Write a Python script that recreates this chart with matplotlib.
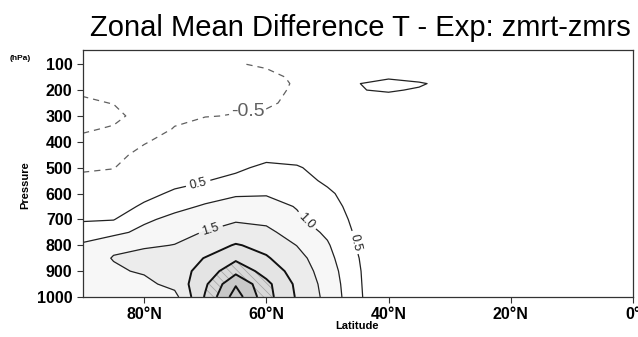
import matplotlib
matplotlib.use("Agg")
from matplotlib import pyplot

lats = [90, 85, 80, 75, 70, 65, 60, 55, 50, 45, 40, 35, 30, 20, 10, 0]
plev = [100, 150, 175, 200, 250, 300, 350, 400, 450, 500,
        550, 600, 650, 700, 750, 800, 850, 900, 950, 1000]

# zonal mean temperature difference (K), one row per level in plev
dT = [
    [-0.80, -0.75, -0.60, -0.58, -0.55, -0.52, -0.46, -0.30, -0.15, 0.20, 0.25, 0.20, 0.15, 0.10, 0.05, 0.00],
    [-0.85, -0.80, -0.65, -0.62, -0.56, -0.54, -0.58, -0.45, -0.20, 0.38, 0.45, 0.30, 0.25, 0.15, 0.05, 0.00],
    [-0.90, -0.85, -0.68, -0.64, -0.56, -0.55, -0.60, -0.47, -0.22, 0.49, 0.62, 0.56, 0.33, 0.15, 0.05, 0.00],
    [-0.95, -0.90, -0.72, -0.66, -0.57, -0.55, -0.60, -0.45, -0.25, 0.48, 0.55, 0.45, 0.30, 0.15, 0.05, 0.00],
    [-1.05, -0.99, -0.80, -0.68, -0.55, -0.54, -0.55, -0.42, -0.25, 0.20, 0.25, 0.20, 0.15, 0.10, 0.05, 0.00],
    [-1.10, -1.10, -0.85, -0.62, -0.51, -0.49, -0.44, -0.35, -0.20, 0.00, 0.05, 0.05, 0.05, 0.05, 0.00, 0.00],
    [-1.05, -0.96, -0.80, -0.47, -0.39, -0.35, -0.30, -0.20, -0.10, -0.05, -0.05, 0.00, 0.00, 0.00, 0.00, 0.00],
    [-0.90, -0.80, -0.54, -0.30, -0.20, -0.20, -0.10, 0.00, 0.00, -0.05, -0.05, 0.00, 0.00, 0.00, 0.00, 0.00],
    [-0.75, -0.65, -0.35, -0.15, 0.00, 0.05, 0.25, 0.25, 0.12, 0.00, 0.00, 0.00, 0.00, 0.00, 0.00, 0.00],
    [-0.58, -0.52, -0.15, 0.05, 0.20, 0.35, 0.67, 0.56, 0.25, 0.05, 0.00, 0.00, 0.00, 0.00, 0.00, 0.00],
    [-0.35, -0.30, 0.05, 0.30, 0.47, 0.70, 0.85, 0.72, 0.40, 0.10, 0.00, 0.05, 0.05, 0.00, 0.00, 0.00],
    [-0.10, -0.05, 0.30, 0.61, 0.77, 0.95, 0.97, 0.85, 0.60, 0.20, 0.05, 0.05, 0.05, 0.00, 0.00, 0.00],
    [0.15, 0.20, 0.60, 0.85, 1.06, 1.16, 1.14, 0.98, 0.72, 0.28, 0.05, 0.05, 0.05, 0.00, 0.00, 0.00],
    [0.45, 0.48, 0.90, 1.15, 1.30, 1.45, 1.37, 1.06, 0.82, 0.35, 0.05, 0.05, 0.05, 0.00, 0.00, 0.00],
    [0.75, 0.85, 1.15, 1.38, 1.52, 1.68, 1.63, 1.25, 0.92, 0.41, 0.00, 0.05, 0.00, 0.00, 0.00, 0.00],
    [1.07, 1.43, 1.45, 1.51, 1.75, 2.04, 1.85, 1.49, 1.05, 0.46, 0.00, 0.00, 0.00, 0.00, 0.00, 0.00],
    [1.30, 1.52, 1.64, 1.72, 2.02, 2.40, 2.05, 1.68, 1.15, 0.52, 0.00, 0.00, 0.00, 0.00, 0.00, 0.00],
    [1.35, 1.44, 1.55, 1.75, 2.20, 2.85, 2.30, 1.80, 1.25, 0.56, -0.04, 0.00, 0.00, 0.00, 0.00, 0.00],
    [1.35, 1.40, 1.38, 1.65, 2.42, 3.45, 2.63, 1.90, 1.32, 0.58, -0.05, 0.00, 0.00, 0.00, 0.00, 0.00],
    [1.30, 1.35, 1.30, 1.34, 2.55, 3.75, 2.68, 1.95, 1.36, 0.60, -0.05, 0.00, 0.00, 0.00, 0.00, 0.00],
]

lat_ticks = [80, 60, 40, 20, 0]
lat_labels = ["80°N", "60°N", "40°N", "20°N", "0°"]
p_ticks = [100, 200, 300, 400, 500, 600, 700, 800, 900, 1000]

pyplot.rcParams["font.family"] = ["Liberation Sans", "DejaVu Sans"]
pyplot.rcParams["hatch.color"] = "#a0a0a0"
pyplot.rcParams["hatch.linewidth"] = 0.5

fig = pyplot.figure(figsize=(6.38, 3.37), dpi=100)
ax = fig.add_axes([0.1301, 0.1187, 0.862, 0.733])

# grey shading of the warm core near the surface
ax.contourf(lats, plev, dT, levels=[1.0, 1.5, 2.0, 2.5, 3.0, 9.0],
            colors=["#f7f7f7", "#ececec", "#e4e4e4", "#d9d9d9", "#c8c8c8"],
            hatches=[None, None, None, "\\\\\\\\", None])

dash = [(0, (5, 4))]
ax.contour(lats, plev, dT, levels=[-1.0], colors="#606060",
           linewidths=0.9, linestyles=dash)
neg = ax.contour(lats, plev, dT, levels=[-0.5], colors="#606060",
                 linewidths=0.9, linestyles=dash)
pos = ax.contour(lats, plev, dT, levels=[0.5, 1.0, 1.5], colors="#222222",
                 linewidths=0.9)
ax.contour(lats, plev, dT, levels=[2.0, 2.5, 3.0, 3.5], colors="#111111",
           linewidths=1.4)

ax.clabel(pos, fmt="%.1f", fontsize=9, inline_spacing=4,
          manual=[(71, 575), (46, 792), (53.3, 703), (69, 746)])
top_lab = ax.clabel(neg, fmt="%.1f", fontsize=14, colors="#606060",
                    inline_spacing=2, manual=[(63, 292)])
for t in top_lab:
    t.set_rotation(0)

ax.set_xlim(90, 0)
ax.set_ylim(1000, 45)
ax.set_xticks(lat_ticks)
ax.set_xticklabels(lat_labels)
ax.set_yticks(p_ticks)
ax.tick_params(direction="out", length=4, width=0.8, color="#333333")
for lab in ax.get_xticklabels() + ax.get_yticklabels():
    lab.set_fontweight("bold")
    lab.set_fontsize(11.5)
for side in ax.spines.values():
    side.set_linewidth(0.9)
    side.set_color("#333333")

fig.text(0.5645, 0.918, "Zonal Mean Difference T - Exp: zmrt-zmrs",
         ha="center", va="center", fontsize=21)
fig.text(20 / 638, 1 - 58 / 337, "(hPa)", ha="center", va="center",
         fontsize=6, fontweight="bold")
fig.text(25 / 638, 1 - 185 / 337, "Pressure", ha="center", va="center",
         rotation=90, fontsize=8, fontweight="bold")
fig.text(357 / 638, 1 - 326 / 337, "Latitude", ha="center", va="center",
         fontsize=8, fontweight="bold")

fig.savefig("out.png", dpi=100)
